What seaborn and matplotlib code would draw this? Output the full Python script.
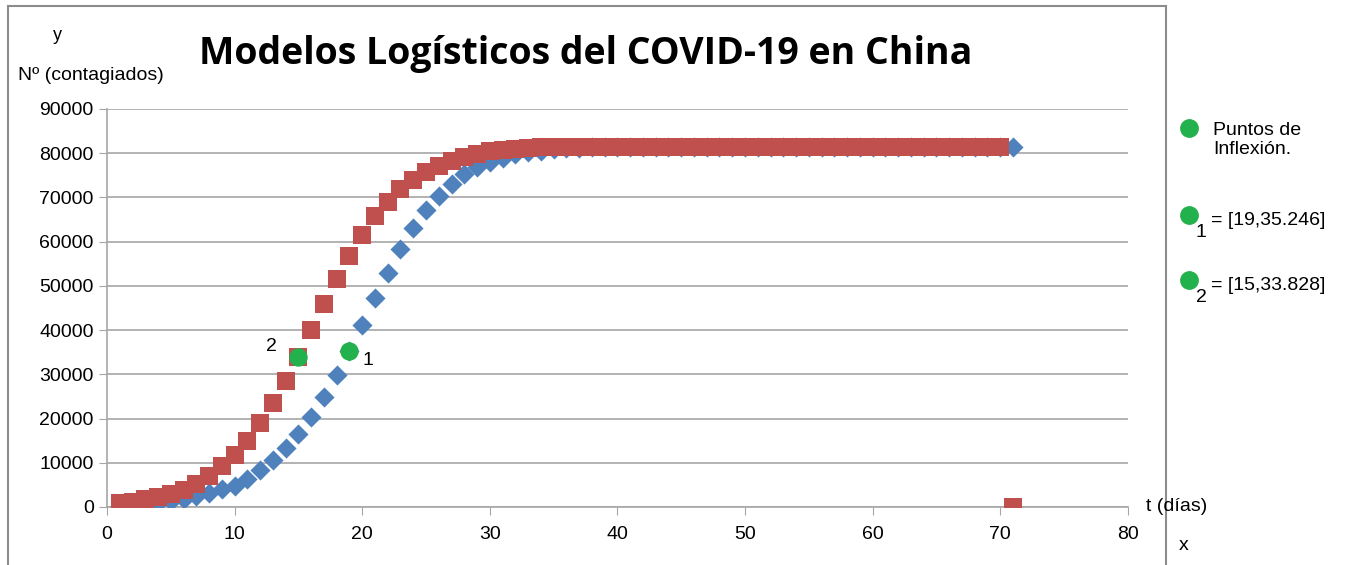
import numpy as np
import pandas as pd
import seaborn as sns
import matplotlib.pyplot as plt
from matplotlib.patches import Rectangle

# Data
dias = list(range(1, 72))

modelo_azul = [300, 500, 700, 1000, 1400, 1900, 2500, 3100, 4000, 4800,
               6300, 8300, 10700, 13400, 16400, 20300, 24900, 29900, 35200, 41200,
               47200, 52900, 58300, 63100, 67100, 70400, 73100, 75200, 76800, 78000,
               79000, 79700, 80200, 80600, 80900, 81100, 81200, 81300, 81400, 81400,
               81500, 81500, 81500, 81500, 81500, 81500, 81500, 81500, 81500, 81500,
               81500, 81500, 81500, 81500, 81500, 81500, 81500, 81500, 81500, 81500,
               81500, 81500, 81500, 81500, 81500, 81500, 81500, 81500, 81500, 81500,
               81500]

modelo_rojo = [800, 1200, 1700, 2200, 2900, 3800, 5200, 7000, 9200, 11800,
               15000, 19000, 23500, 28500, 34000, 40000, 45800, 51500, 56700, 61500,
               65700, 69000, 71800, 74000, 75800, 77200, 78300, 79200, 79900, 80400,
               80800, 81000, 81200, 81300, 81400, 81400, 81500, 81500, 81500, 81500,
               81500, 81500, 81500, 81500, 81500, 81500, 81500, 81500, 81500, 81500,
               81500, 81500, 81500, 81500, 81500, 81500, 81500, 81500, 81500, 81500,
               81500, 81500, 81500, 81500, 81500, 81500, 81500, 81500, 81500, 81500,
               0]

inflexion_x = [19, 15]
inflexion_y = [35246, 33828]
inflexion_lbl = ["1", "2"]

azul = "#4f81bd"
rojo = "#c0504d"
verde = "#22b14c"

sns.set_style("white")
plt.rcParams['font.family'] = ['Liberation Sans', 'DejaVu Sans']
plt.rcParams['text.color'] = 'black'
plt.rcParams['xtick.color'] = 'black'
plt.rcParams['ytick.color'] = 'black'

fig = plt.figure(figsize=(13.72, 5.65), dpi=100)
ax = fig.add_axes([0.078, 0.1027, 0.744, 0.7045])

df = pd.DataFrame({"t": dias, "azul": modelo_azul, "rojo": modelo_rojo})

sns.scatterplot(data=df, x="t", y="azul", marker="D", s=105, color=azul,
                linewidth=0, ax=ax, zorder=3)
sns.scatterplot(data=df, x="t", y="rojo", marker="s", s=180, color=rojo,
                linewidth=0, ax=ax, zorder=4)
sns.scatterplot(x=inflexion_x, y=inflexion_y, marker="o", s=175, color=verde,
                linewidth=0, ax=ax, zorder=5)

ax.text(20.0, 35000, inflexion_lbl[0], fontsize=14, va="top", ha="left")
ax.text(13.3, 36200, inflexion_lbl[1], fontsize=14, va="center", ha="right")

ax.set_xlim(0, 80)
ax.set_ylim(0, 90000)
ax.set_xticks(range(0, 81, 10))
ax.set_yticks(range(0, 90001, 10000))
ax.set_xlabel("")
ax.set_ylabel("")
ax.yaxis.grid(True, color="#a6a6a6", linewidth=1.2)
ax.xaxis.grid(False)
for s in ["top", "right"]:
    ax.spines[s].set_visible(False)
for s in ["left", "bottom"]:
    ax.spines[s].set_color("#a6a6a6")
    ax.spines[s].set_linewidth(1.2)
ax.tick_params(axis="both", which="both", length=6, color="#a6a6a6",
               labelsize=14, direction="out", bottom=True, left=True)
ax.tick_params(axis="x", pad=8)
ax.set_axisbelow(True)

# Title and axis texts
fig.text(0.427, 0.905, "Modelos Logísticos del COVID-19 en China",
         fontsize=27, fontweight="bold", family="Open Sans", ha="center", va="center")
fig.text(0.042, 0.938, "y", fontsize=13, ha="center", va="center")
fig.text(0.013, 0.867, "Nº (contagiados)", fontsize=14, ha="left", va="center")
fig.text(0.835, 0.103, "t (días)", fontsize=14, ha="left", va="center")
fig.text(0.859, 0.035, "x", fontsize=14, ha="left", va="center")

# Inflection legend on the right
fig.add_artist(plt.Line2D([0.8667], [0.773], marker="o", markersize=12.5,
                          color=verde, transform=fig.transFigure))
fig.text(0.884, 0.752, "Puntos de\nInflexión.", fontsize=14, ha="left", va="center",
         linespacing=1.1)
for yy, sub, val in [(0.619, "1", "= [19,35.246]"), (0.504, "2", "= [15,33.828]")]:
    fig.add_artist(plt.Line2D([0.8667], [yy], marker="o", markersize=12.5,
                              color=verde, transform=fig.transFigure))
    fig.text(0.8715, yy - 0.03, sub, fontsize=14, ha="left", va="center")
    fig.text(0.883, yy - 0.01, val, fontsize=14, ha="left", va="center")

# Chart area frame
fig.add_artist(Rectangle((0.006, -0.05), 0.844, 1.04, transform=fig.transFigure,
                         fill=False, edgecolor="#8c8c8c", linewidth=1.5))

fig.savefig("out.png", dpi=100)
